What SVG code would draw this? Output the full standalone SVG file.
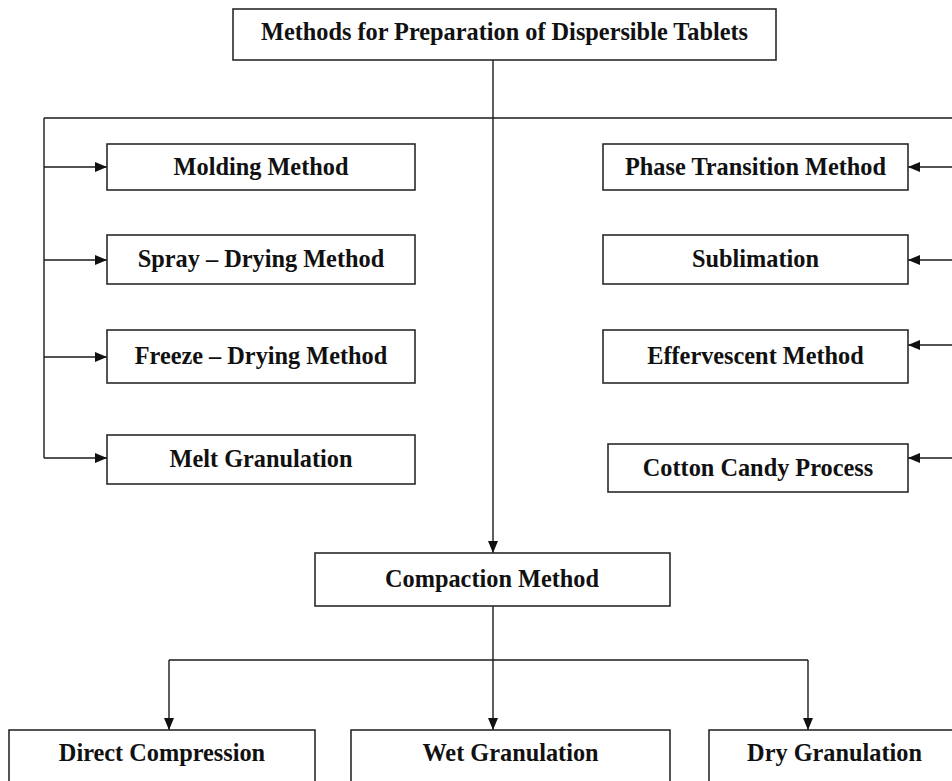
<svg xmlns="http://www.w3.org/2000/svg" width="952" height="781" viewBox="0 0 952 781">
<style>
.box{fill:#fff;stroke:#2a2a2a;stroke-width:1.6}
.t{font-family:"Liberation Serif","Times New Roman",serif;font-weight:bold;font-size:24.3px;fill:#111;text-anchor:middle}
.c{fill:none;stroke:#1a1a1a;stroke-width:1.4}
</style>
<defs>
<marker id="ah" markerUnits="userSpaceOnUse" markerWidth="13" markerHeight="11" refX="12" refY="5" orient="auto">
<path d="M0,0 L12,5 L0,10 z" fill="#111"/>
</marker>
</defs>
<rect width="952" height="781" fill="#fff"/>
<g id="connectors">
<path class="c" d="M493,60 V118"/>
<path class="c" d="M44,118 H952"/>
<path class="c" d="M44,118 V458"/>
<path class="c" d="M44,167 H107" marker-end="url(#ah)"/>
<path class="c" d="M44,260 H107" marker-end="url(#ah)"/>
<path class="c" d="M44,357 H107" marker-end="url(#ah)"/>
<path class="c" d="M44,458 H107" marker-end="url(#ah)"/>
<path class="c" d="M952,167 H908" marker-end="url(#ah)"/>
<path class="c" d="M952,260 H908" marker-end="url(#ah)"/>
<path class="c" d="M952,345 H908" marker-end="url(#ah)"/>
<path class="c" d="M952,458 H908" marker-end="url(#ah)"/>
<path class="c" d="M493,118 V553" marker-end="url(#ah)"/>
<path class="c" d="M493,606 V730" marker-end="url(#ah)"/>
<path class="c" d="M169,660 H808"/>
<path class="c" d="M169,660 V730" marker-end="url(#ah)"/>
<path class="c" d="M808,660 V730" marker-end="url(#ah)"/>
</g>
<g id="top"><rect class="box" x="233" y="9" width="543" height="51"/><text class="t" x="504.5" y="40">Methods for Preparation of Dispersible Tablets</text></g>
<g id="molding"><rect class="box" x="107" y="144" width="308" height="46"/><text class="t" x="261" y="175">Molding Method</text></g>
<g id="spray"><rect class="box" x="107" y="235" width="308" height="49"/><text class="t" x="261" y="267">Spray – Drying Method</text></g>
<g id="freeze"><rect class="box" x="107" y="330" width="308" height="53"/><text class="t" x="261" y="364">Freeze – Drying Method</text></g>
<g id="melt"><rect class="box" x="107" y="435" width="308" height="49"/><text class="t" x="261" y="467">Melt Granulation</text></g>
<g id="phase"><rect class="box" x="603" y="144" width="305" height="46"/><text class="t" x="755.5" y="175">Phase Transition Method</text></g>
<g id="sublimation"><rect class="box" x="603" y="235" width="305" height="49"/><text class="t" x="755.5" y="267">Sublimation</text></g>
<g id="effervescent"><rect class="box" x="603" y="330" width="305" height="53"/><text class="t" x="755.5" y="364">Effervescent Method</text></g>
<g id="cotton"><rect class="box" x="608" y="444" width="300" height="48"/><text class="t" x="758" y="476">Cotton Candy Process</text></g>
<g id="compaction"><rect class="box" x="315" y="553" width="355" height="53"/><text class="t" x="492" y="587">Compaction Method</text></g>
<g id="direct"><rect class="box" x="9" y="730" width="306" height="70"/><text class="t" x="162" y="761">Direct Compression</text></g>
<g id="wet"><rect class="box" x="351" y="730" width="319" height="70"/><text class="t" x="510.5" y="761">Wet Granulation</text></g>
<g id="dry"><rect class="box" x="709" y="730" width="260" height="70"/><text class="t" x="834.5" y="761">Dry Granulation</text></g>
</svg>
